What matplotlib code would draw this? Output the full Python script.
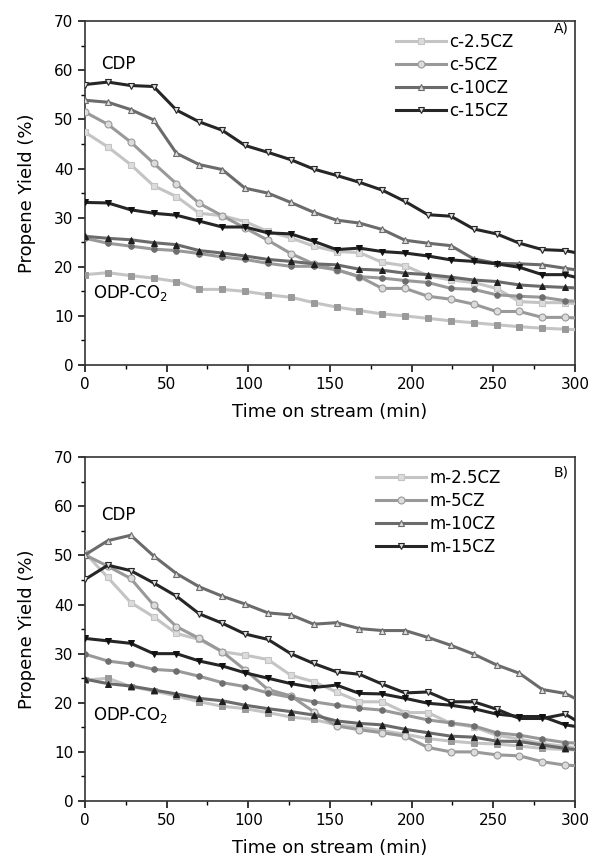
import numpy as np
import matplotlib
matplotlib.use('Agg')
import matplotlib.pyplot as plt
from matplotlib.ticker import MultipleLocator

# time on stream (min); last point sits on the right axis edge
time = [0, 14, 28, 42, 56, 70, 84, 98, 112, 126, 140, 154, 168, 182, 196,
        210, 224, 238, 252, 266, 280, 294, 300]

# %% panel A, CDP
c25_cdp = [47.4, 44.4, 40.8, 36.5, 34.3, 30.9, 30.4, 29.2, 27.2, 25.9, 24.2, 23.1,
           22.9, 20.9, 20.2, 18.2, 17.3, 16.8, 15.6, 12.9, 12.7, 12.7, 12.5]
c5_cdp = [51.5, 49.0, 45.4, 41.1, 36.9, 32.9, 30.4, 27.9, 25.4, 22.7, 20.6, 19.4,
          18.0, 15.6, 15.6, 14.0, 13.4, 12.4, 10.9, 10.9, 9.7, 9.7, 9.6]
c10_cdp = [53.9, 53.5, 52.0, 49.9, 43.1, 40.8, 39.8, 36.0, 35.0, 33.1, 31.1, 29.5,
           28.9, 27.6, 25.4, 24.8, 24.3, 21.6, 20.7, 20.6, 20.4, 19.7, 19.4]
c15_cdp = [57.1, 57.6, 56.9, 56.7, 51.9, 49.5, 47.8, 44.7, 43.3, 41.8, 39.9, 38.6,
           37.2, 35.6, 33.3, 30.6, 30.3, 27.7, 26.7, 24.8, 23.5, 23.3, 22.9]
# panel A, ODP-CO2
c25_odp = [18.4, 18.8, 18.2, 17.7, 17.0, 15.4, 15.4, 15.0, 14.3, 13.8, 12.7, 11.8,
           11.1, 10.4, 10.0, 9.5, 9.0, 8.6, 8.2, 7.8, 7.5, 7.3, 7.2]
c5_odp = [25.8, 24.8, 24.2, 23.6, 23.3, 22.7, 22.0, 21.5, 20.7, 20.1, 20.1, 19.4,
          18.0, 17.7, 17.2, 16.8, 15.6, 15.4, 14.3, 14.0, 13.8, 13.1, 13.0]
c10_odp = [26.2, 25.8, 25.5, 24.9, 24.5, 23.3, 22.8, 22.2, 21.5, 21.1, 20.6, 20.4,
           19.5, 19.3, 18.7, 18.4, 17.9, 17.3, 17.0, 16.3, 16.0, 15.8, 15.7]
c15_odp = [33.1, 33.0, 31.6, 30.9, 30.5, 29.3, 28.1, 28.1, 26.9, 26.7, 25.2, 23.5,
           23.8, 23.1, 22.8, 22.2, 21.4, 21.1, 20.6, 19.9, 18.4, 18.4, 17.9]

# %% panel B, CDP
m25_cdp = [50.5, 45.5, 40.4, 37.5, 34.1, 32.9, 30.4, 29.7, 28.8, 25.6, 24.3, 22.2,
           20.2, 20.2, 18.0, 18.0, 15.8, 15.1, 13.4, 12.6, 11.7, 11.1, 10.9]
m5_cdp = [50.1, 47.8, 45.3, 39.9, 35.5, 33.1, 30.4, 26.7, 22.7, 21.4, 18.2, 15.3,
          14.5, 13.9, 13.2, 10.9, 10.0, 10.0, 9.4, 9.2, 8.0, 7.3, 7.2]
m10_cdp = [50.1, 53.0, 54.1, 49.9, 46.3, 43.6, 41.7, 40.1, 38.3, 37.9, 36.0, 36.3,
           35.1, 34.7, 34.7, 33.3, 31.7, 29.9, 27.7, 26.0, 22.7, 21.9, 20.9]
m15_cdp = [45.1, 48.0, 46.9, 44.4, 41.7, 38.1, 36.2, 34.0, 32.9, 30.0, 28.0, 26.3,
           25.8, 23.8, 22.0, 22.2, 20.2, 20.2, 18.7, 16.8, 16.8, 17.7, 16.5]
# panel B, ODP-CO2
m25_odp = [24.6, 25.0, 23.3, 22.4, 21.4, 20.2, 19.3, 18.8, 18.0, 17.1, 16.6, 15.5,
           15.0, 14.3, 13.6, 12.7, 12.2, 11.8, 11.6, 11.2, 10.7, 10.5, 10.4]
m5_odp = [29.9, 28.5, 27.9, 26.8, 26.5, 25.4, 24.1, 23.3, 22.0, 21.1, 20.2, 19.5,
          18.9, 18.5, 17.5, 16.5, 15.9, 15.3, 13.9, 13.4, 12.6, 11.9, 11.8]
m10_odp = [24.8, 23.9, 23.4, 22.6, 21.8, 20.9, 20.4, 19.5, 18.8, 18.2, 17.5, 16.3,
           15.8, 15.5, 14.6, 13.9, 13.2, 13.0, 12.2, 12.1, 11.4, 10.7, 10.5]
m15_odp = [33.1, 32.6, 32.1, 30.0, 30.0, 28.5, 27.5, 26.1, 25.0, 23.9, 23.1, 23.6,
           21.9, 21.8, 20.9, 19.9, 19.5, 18.8, 17.7, 17.2, 17.2, 15.5, 15.2]

labels_a = ['c-2.5CZ', 'c-5CZ', 'c-10CZ', 'c-15CZ']
labels_b = ['m-2.5CZ', 'm-5CZ', 'm-10CZ', 'm-15CZ']

line_colors = ['#c4c4c4', '#999999', '#6b6b6b', '#262626']
odp_face = ['#9a9a9a', '#6e6e6e', '#1e1e1e', '#111111']
markers = ['s', 'o', '^', 'v']

plt.rcParams['font.family'] = ['DejaVu Sans']

fig = plt.figure(figsize=(5.93, 8.64), dpi=100)
ax_a = fig.add_axes([0.1433, 0.5775, 0.8263, 0.398])
ax_b = fig.add_axes([0.1433, 0.0729, 0.8263, 0.398])


def draw_panel(ax, cdp, odp, labels, tag, cdp_y, odp_y):
    handles = []
    for i in range(4):
        h, = ax.plot(time, cdp[i], color=line_colors[i], lw=2.2, marker=markers[i],
                     ms=5, mfc='#dcdcdc', mec=line_colors[i], mew=0.8,
                     markevery=slice(0, 22), label=labels[i], zorder=3 + i)
        handles.append(h)
        ax.plot(time, odp[i], color=line_colors[i], lw=2.2, marker=markers[i],
                ms=4, mfc=odp_face[i], mec=odp_face[i], mew=0.7,
                markevery=slice(0, 22), zorder=3 + i)

    ax.set_xlim(0, 300)
    ax.set_ylim(0, 70)
    ax.xaxis.set_major_locator(MultipleLocator(50))
    ax.xaxis.set_minor_locator(MultipleLocator(25))
    ax.yaxis.set_major_locator(MultipleLocator(10))
    ax.yaxis.set_minor_locator(MultipleLocator(5))
    ax.tick_params(which='major', direction='out', length=5, width=1.1,
                   labelsize=11, top=False, right=False)
    ax.tick_params(which='minor', direction='out', length=3, width=1.0,
                   top=False, right=False)
    for sp in ax.spines.values():
        sp.set_linewidth(1.2)
        sp.set_color('#333333')

    ax.set_xlabel('Time on stream (min)', fontsize=13, labelpad=8)
    ax.set_ylabel('Propene Yield (%)', fontsize=13, labelpad=13)

    ax.text(10, cdp_y, 'CDP', fontsize=12, va='center')
    ax.text(5, odp_y, 'ODP-CO$_2$', fontsize=12, va='center')
    ax.text(296, 68.6 if tag == 'A)' else 66.8, tag, fontsize=10, ha='right', va='center')

    ax.legend(handles=handles, loc='upper left', bbox_to_anchor=(0.61 if tag == 'A)' else 0.57, 1.0),
              frameon=False, fontsize=12, handlelength=3.0, handletextpad=0.2,
              labelspacing=0.3, borderaxespad=0.3)


draw_panel(ax_a, [c25_cdp, c5_cdp, c10_cdp, c15_cdp],
           [c25_odp, c5_odp, c10_odp, c15_odp], labels_a, 'A)', 61.3, 14.6)
draw_panel(ax_b, [m25_cdp, m5_cdp, m10_cdp, m15_cdp],
           [m25_odp, m5_odp, m10_odp, m15_odp], labels_b, 'B)', 58.2, 17.5)

fig.savefig('out.png', dpi=100)
